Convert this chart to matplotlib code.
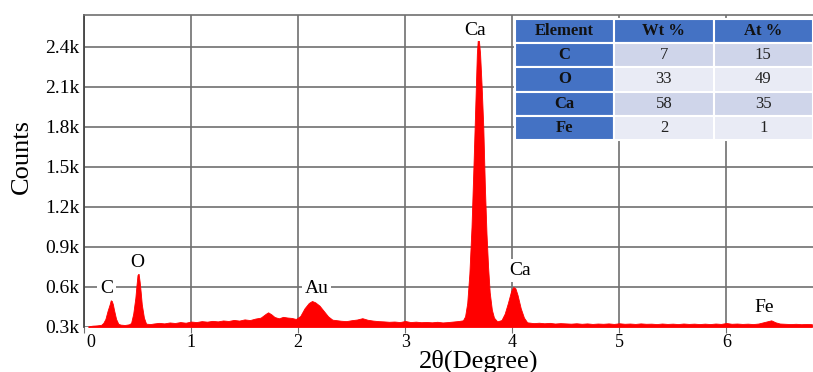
import matplotlib
matplotlib.use("Agg")
import matplotlib.pyplot as plt
from matplotlib.transforms import ScaledTranslation

plt.rcParams["font.family"] = ["Liberation Serif", "DejaVu Serif"]

# -----------------------
# Spectrum
# -----------------------
energy = [0.04, 0.08, 0.12, 0.16, 0.18, 0.20, 0.22, 0.24, 0.25, 0.26, 0.27, 0.28, 0.30, 0.32,
          0.34, 0.38, 0.42, 0.44, 0.46, 0.48, 0.49, 0.50, 0.51, 0.52, 0.53, 0.54, 0.56, 0.58,
          0.62, 0.65, 0.70, 0.75, 0.80, 0.85, 0.90, 0.95, 1.00, 1.05, 1.10, 1.15, 1.20, 1.25,
          1.30, 1.35, 1.40, 1.45, 1.50, 1.55, 1.60, 1.65, 1.70, 1.72, 1.75, 1.78, 1.82, 1.86,
          1.90, 1.94, 1.98, 2.02, 2.06, 2.10, 2.13, 2.16, 2.20, 2.24, 2.28, 2.32, 2.36, 2.40,
          2.45, 2.50, 2.55, 2.60, 2.65, 2.70, 2.75, 2.80, 2.85, 2.90, 2.95, 3.00, 3.05, 3.10,
          3.15, 3.20, 3.25, 3.30, 3.35, 3.40, 3.45, 3.50, 3.54, 3.56, 3.58, 3.60, 3.62, 3.64,
          3.655, 3.67, 3.68, 3.69, 3.70, 3.715, 3.73, 3.745, 3.76, 3.775, 3.79, 3.81, 3.83,
          3.86, 3.90, 3.93, 3.96, 3.99, 4.01, 4.03, 4.05, 4.08, 4.11, 4.14, 4.20, 4.25, 4.30,
          4.35, 4.40, 4.45, 4.50, 4.55, 4.60, 4.65, 4.70, 4.75, 4.80, 4.85, 4.90, 4.95, 5.00,
          5.05, 5.10, 5.15, 5.20, 5.25, 5.30, 5.35, 5.40, 5.45, 5.50, 5.55, 5.60, 5.65, 5.70,
          5.75, 5.80, 5.85, 5.90, 5.95, 6.00, 6.05, 6.10, 6.15, 6.20, 6.25, 6.30, 6.34, 6.38,
          6.42, 6.46, 6.50, 6.55, 6.60, 6.65, 6.70, 6.75, 6.80]
counts = [305, 310, 312, 316, 330, 360, 420, 470, 500, 495, 470, 430, 360, 325,
          318, 315, 320, 330, 400, 520, 610, 690, 700, 640, 560, 470, 370, 325,
          322, 326, 331, 327, 334, 330, 337, 332, 341, 337, 344, 340, 346, 342,
          349, 345, 353, 348, 357, 352, 363, 370, 400, 410, 395, 375, 365, 376,
          371, 368, 360, 382, 440, 480, 495, 485, 460, 420, 380, 355, 351, 347,
          344, 351, 356, 366, 354, 348, 344, 342, 339, 341, 337, 345, 337, 340,
          336, 338, 335, 339, 334, 337, 341, 345, 350, 380, 480, 700, 1050, 1550,
          1950, 2350, 2470, 2440, 2350, 2100, 1800, 1350, 1000, 750, 560, 430, 370,
          342, 352, 400, 480, 570, 600, 590, 540, 440, 370, 335, 329, 332, 328,
          331, 326, 329, 327, 325, 328, 324, 327, 323, 326, 324, 327, 323, 328,
          324, 326, 323, 327, 324, 325, 322, 326, 323, 325, 322, 326, 323, 325,
          322, 325, 322, 326, 323, 330, 324, 326, 323, 325, 322, 326, 334, 342,
          350, 335, 326, 324, 322, 324, 321, 323, 321]

# peak labels
peak_names = ["C", "O", "Au", "Ca", "Ca", "Fe"]
peak_x = [0.21, 0.50, 2.17, 3.65, 4.07, 6.35]
peak_y = [590, 785, 585, 2525, 725, 445]

# EDS table
col_labels = ["Element", "Wt %", "At %"]
elements = ["C", "O", "Ca", "Fe"]
wt_pct = ["7", "33", "58", "2"]
at_pct = ["15", "49", "35", "1"]

yticks = [300, 600, 900, 1200, 1500, 1800, 2100, 2400]
ytick_labels = ["0.3k", "0.6k", "0.9k", "1.2k", "1.5k", "1.8k", "2.1k", "2.4k"]
xticks = [0, 1, 2, 3, 4, 5, 6]

# -----------------------
# Plot
# -----------------------
fig = plt.figure(figsize=(8.13, 3.72), dpi=100)
ax = fig.add_axes([0.1033, 0.121, 0.8967, 0.839])

ax.fill_between(energy, 300, counts, color="#ff0000", lw=0.6, zorder=3)

ax.set_xlim(0, 6.81)
ax.set_ylim(300, 2640)
ax.set_xticks(xticks)
ax.set_yticks(yticks)
ax.set_yticklabels(ytick_labels)
ax.tick_params(axis="both", labelsize=14, length=4, color="#707070", direction="out")
ax.tick_params(axis="y", length=0, pad=3)
ax.tick_params(axis="x", labelsize=13, pad=1)
ax.grid(True, color="#707070", lw=1.2, zorder=0)
ax.set_axisbelow(True)

# the "0" label sits a little to the right of the axis in the original
ax.get_xticklabels()[0].set_transform(
    ax.get_xticklabels()[0].get_transform() + ScaledTranslation(0.07, 0, fig.dpi_scale_trans))

for side in ["right", "bottom"]:
    ax.spines[side].set_visible(False)
ax.spines["left"].set_color("#444444")
ax.spines["top"].set_color("#707070")
ax.spines["left"].set_linewidth(1.3)
ax.spines["top"].set_linewidth(1.2)

ax.set_xlabel("2θ(Degree)", fontsize=19)
ax.xaxis.set_label_coords(0.542, -0.072)
ax.set_ylabel("Counts", fontsize=19)
ax.yaxis.set_label_coords(-0.07, 0.545)

for name, px, py in zip(peak_names, peak_x, peak_y):
    ax.text(px, py, name, fontsize=14, ha="center", va="center", zorder=4,
            bbox=dict(facecolor="white", edgecolor="none", pad=2))

# table
rows = [[e, w, a] for e, w, a in zip(elements, wt_pct, at_pct)]
tab = ax.table(cellText=rows, colLabels=col_labels, cellLoc="center",
               bbox=[0.591, 0.599, 0.409, 0.388], zorder=5)
tab.auto_set_font_size(False)
row_colors = ["#cfd5ea", "#e9ebf5", "#cfd5ea", "#e9ebf5"]
for (r, c), cell in tab.get_celld().items():
    cell.set_edgecolor("white")
    cell.set_linewidth(1.5)
    cell.get_text().set_fontsize(12)
    if r == 0 or c == 0:
        cell.set_facecolor("#4472c4")
        cell.get_text().set_fontweight("bold")
        cell.get_text().set_color("#111111")
    else:
        cell.set_facecolor(row_colors[r - 1])
        cell.get_text().set_color("#222222")

fig.savefig("out.png", dpi=100)
